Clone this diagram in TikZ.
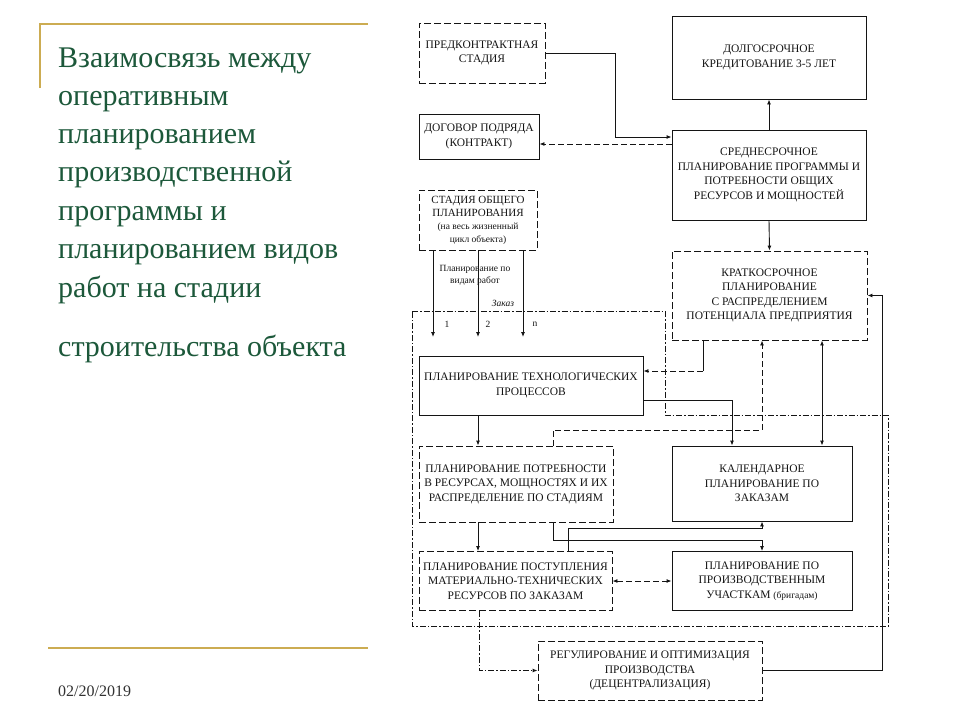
\documentclass[tikz,border=0pt]{standalone}
\usepackage{fontspec}
\setmainfont{Liberation Serif}
\usetikzlibrary{arrows.meta}
\definecolor{titlegreen}{RGB}{28,88,58}
\definecolor{gold}{RGB}{204,172,82}
\definecolor{ink}{RGB}{20,20,20}
\definecolor{dategray}{RGB}{50,50,50}
\begin{document}
\begin{tikzpicture}[x=1pt,y=-1pt,
  box/.style={draw=ink, line width=0.9pt, inner sep=0pt, align=center,
    font=\fontsize{11.5}{14.5}\selectfont, text=ink},
  dbox/.style={box, dash pattern=on 7pt off 3pt},
  conn/.style={draw=ink, line width=0.9pt},
  arr/.style={conn, -{Latex[length=5pt,width=4pt]}},
  darr/.style={conn, {Latex[length=5pt,width=4pt]}-{Latex[length=5pt,width=4pt]}},
  dashline/.style={dash pattern=on 6pt off 3pt},
  dashdot/.style={draw=ink, line width=0.9pt, dash pattern=on 6pt off 2pt on 1.5pt off 2pt},
  ttl/.style={anchor=base west, inner sep=0pt, text=titlegreen, font=\fontsize{30}{32}\selectfont},
  small/.style={inner sep=0pt, text=ink, font=\fontsize{9.5}{12}\selectfont, align=center}]
\useasboundingbox[fill=white] (0,0) rectangle (960,720);

% slide decoration
\draw[gold, line width=2.5pt] (40,88) -- (40,24) -- (368,24);
\draw[gold, line width=2.5pt] (48,648) -- (368,648);

% title
\node[ttl] (t1) at (58,67) {Взаимосвязь между};
\node[ttl] (t2) at (58,105) {оперативным};
\node[ttl] (t3) at (58,143) {планированием};
\node[ttl] (t4) at (58,181) {производственной};
\node[ttl] (t5) at (58,220) {программы и};
\node[ttl] (t6) at (58,258) {планированием видов};
\node[ttl] (t7) at (58,297) {работ на стадии};
\node[ttl] (t8) at (58,356) {строительства объекта};
\node[anchor=base west, inner sep=0pt, text=dategray, font=\fontsize{16}{18}\selectfont] (date) at (58,696) {02/20/2019};

% container
\draw[dashdot] (412,311) -- (665,311) -- (665,415) -- (888,415) -- (888,626) -- (412,626) -- cycle;

% boxes
\node[dbox, minimum width=126pt, minimum height=60pt] (pred) at (482,53) {ПРЕДКОНТРАКТНАЯ\\СТАДИЯ};
\node[box, minimum width=120pt, minimum height=45pt] (dog) at (479,136.5) {ДОГОВОР ПОДРЯДА\\(КОНТРАКТ)};
\node[dbox, minimum width=118pt, minimum height=60pt, font=\fontsize{11}{13}\selectfont] (stad) at (478,220) {СТАДИЯ ОБЩЕГО\\ПЛАНИРОВАНИЯ\\{\fontsize{9.5}{12}\selectfont (на весь жизненный}\\{\fontsize{9.5}{12}\selectfont цикл объекта)}};
\node[box, minimum width=194pt, minimum height=83pt] (dolg) at (769,57.5) {ДОЛГОСРОЧНОЕ\\КРЕДИТОВАНИЕ 3-5 ЛЕТ};
\node[box, minimum width=194pt, minimum height=90pt] (sred) at (769,175) {СРЕДНЕСРОЧНОЕ\\ПЛАНИРОВАНИЕ ПРОГРАММЫ И\\ПОТРЕБНОСТИ ОБЩИХ\\РЕСУРСОВ И МОЩНОСТЕЙ};
\node[dbox, minimum width=195pt, minimum height=89pt] (krat) at (769.5,295.5) {КРАТКОСРОЧНОЕ\\ПЛАНИРОВАНИЕ\\С РАСПРЕДЕЛЕНИЕМ\\ПОТЕНЦИАЛА ПРЕДПРИЯТИЯ};
\node[box, minimum width=224pt, minimum height=59pt] (tech) at (531,385.5) {ПЛАНИРОВАНИЕ ТЕХНОЛОГИЧЕСКИХ\\ПРОЦЕССОВ};
\node[dbox, minimum width=194pt, minimum height=76pt] (potr) at (516,484) {ПЛАНИРОВАНИЕ ПОТРЕБНОСТИ\\В РЕСУРСАХ, МОЩНОСТЯХ И ИХ\\РАСПРЕДЕЛЕНИЕ ПО СТАДИЯМ};
\node[box, minimum width=180pt, minimum height=75pt] (kal) at (762,483.5) {КАЛЕНДАРНОЕ\\ПЛАНИРОВАНИЕ ПО\\ЗАКАЗАМ};
\node[dbox, minimum width=193pt, minimum height=59pt] (post) at (515.5,581) {ПЛАНИРОВАНИЕ ПОСТУПЛЕНИЯ\\МАТЕРИАЛЬНО-ТЕХНИЧЕСКИХ\\РЕСУРСОВ ПО ЗАКАЗАМ};
\node[box, minimum width=180pt, minimum height=59pt] (uch) at (762,581) {ПЛАНИРОВАНИЕ ПО\\ПРОИЗВОДСТВЕННЫМ\\УЧАСТКАМ {\fontsize{9.5}{12}\selectfont (бригадам)}};
\node[dbox, minimum width=224pt, minimum height=59pt] (reg) at (650,670.5) {РЕГУЛИРОВАНИЕ И ОПТИМИЗАЦИЯ\\ПРОИЗВОДСТВА\\(ДЕЦЕНТРАЛИЗАЦИЯ)};

% labels
\node[small] (lbl) at (475,275) {Планирование по\\видам работ};
\node[small, font=\fontsize{9.5}{12}\selectfont\itshape] (zak) at (503,303) {Заказ};
\node[small] (n1) at (447,324) {1};
\node[small] (n2) at (488,324) {2};
\node[small] (n3) at (535,324) {n};

% free ends of the order arrows
\coordinate (e1) at (433,337);
\coordinate (e2) at (478,337);
\coordinate (e3) at (523,337);
\draw[arr] (stad.south -| e1) -- (e1);
\draw[arr] (stad.south -| e2) -- (e2);
\draw[arr] (stad.south -| e3) -- (e3);

% connectors
\draw[arr] (pred.east) -| (615,137) -- ([yshift=38pt]sred.west);
\draw[arr, dashline] ([yshift=31pt]sred.west) -- ([yshift=-7.5pt]dog.east);
\draw[arr] (sred.north) -- (dolg.south);
\draw[arr] (sred.south) -- (krat.north);

\coordinate (k1) at (703,371);
\draw[conn] ([xshift=-66.5pt]krat.south) -- (k1);
\draw[arr, dashline] (k1) -- ([yshift=14.5pt]tech.east);

\draw[arr] ([yshift=-14.5pt]tech.east) -| ([xshift=-30pt]kal.north);

\coordinate (h1) at (762,430);
\draw[arr, dashline] ([xshift=37pt]potr.north) |- (h1) -- ([xshift=-7.5pt]krat.south);

\draw[darr] ([xshift=52.5pt]krat.south) -- ([xshift=60pt]kal.north);

\coordinate (j1) at (882,295.5);
\draw[arr] (reg.east) -| (j1) -- (krat.east);

\draw[arr] ([xshift=-53pt]tech.south) -- ([xshift=-38pt]potr.north);
\draw[arr] ([xshift=-38pt]potr.south) -- ([xshift=-37.5pt]post.north);

\draw[arr] ([xshift=37pt]potr.south) |- ([yshift=11pt]uch.north) -- (uch.north);
\draw[arr] ([xshift=52.5pt]post.north) |- ([yshift=-7pt]kal.south) -- (kal.south);

\draw[darr, dashline] (post.east) -- (uch.west);
\draw[dashdot, -{Latex[length=5pt,width=4pt]}] ([xshift=-36.5pt]post.south) |- (reg.west);
\end{tikzpicture}
\end{document}
